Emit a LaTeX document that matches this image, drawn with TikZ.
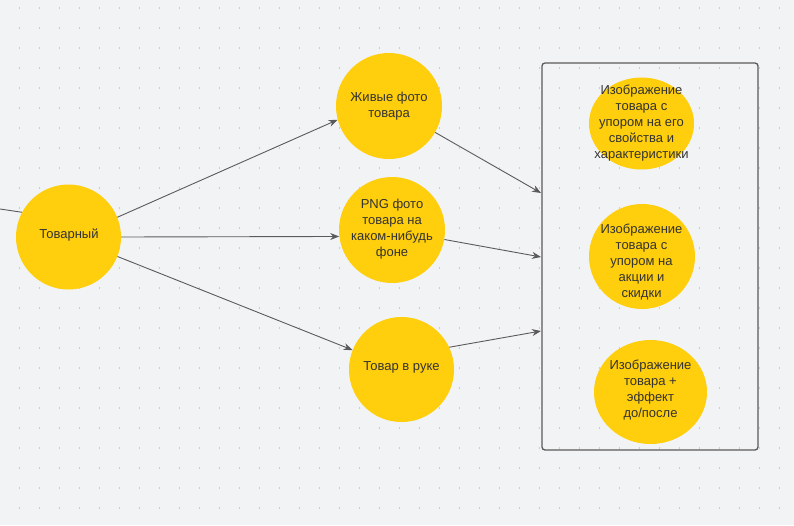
\documentclass[tikz,border=0pt]{standalone}
\usepackage{fontspec}
\setmainfont{Liberation Sans}
\usetikzlibrary{arrows.meta,shapes.geometric}
\definecolor{bg}{HTML}{F2F3F5}
\definecolor{dotc}{HTML}{A8A8A8}
\definecolor{yel}{HTML}{FFCE0C}
\definecolor{edge}{HTML}{5A5A5A}
\definecolor{txtc}{HTML}{333333}
\tikzset{
  bub/.style={ellipse, fill=yel, inner sep=0pt},
  txt/.style={align=center, font=\fontsize{13pt}{16pt}\selectfont, text=txtc, inner sep=0pt},
  arr/.style={draw=edge, line width=0.9pt, -{Stealth[length=9pt,width=7pt]}},
  plain/.style={draw=edge, line width=0.9pt},
  frame/.style={draw=edge, line width=1.3pt, rounded corners=3pt}
}
\begin{document}
\begin{tikzpicture}[x=1pt,y=-1pt]
\fill[bg] (0,0) rectangle (794,525);
\useasboundingbox (0,0) rectangle (794,525);
\foreach \i in {0,...,39}{
  \foreach \j in {0,...,25}{
    \fill[dotc] ({19.5+20*\i},{8+20*\j}) circle (0.6pt);
  }
}
% frame
\node[frame, minimum width=216pt, minimum height=387pt, inner sep=0pt] (box) at (650,256.5) {};
% bubbles
\node[bub, minimum width=105pt, minimum height=105pt] (tov) at (68.5,237) {};
\node[bub, minimum width=106pt, minimum height=106pt] (live) at (389,106) {};
\node[bub, minimum width=106pt, minimum height=106pt] (png) at (392,230) {};
\node[bub, minimum width=105pt, minimum height=105pt] (hand) at (401.5,369.5) {};
\node[bub, minimum width=105pt, minimum height=92pt] (i1) at (641.5,123.5) {};
\node[bub, minimum width=106pt, minimum height=105pt] (i2) at (642,256.5) {};
\node[bub, minimum width=113pt, minimum height=104pt] (i3) at (650.5,392) {};
% texts
\node[txt] at (69,235.5) {Товарный};
\node[txt] at (389,106) {Живые фото\\товара};
\node[txt] at (392,229) {PNG фото\\товара на\\каком-нибудь\\фоне};
\node[txt] at (401.5,367) {Товар в руке};
\node[txt] at (641.5,123) {Изображение\\товара с\\упором на его\\свойства и\\характеристики};
\node[txt] at (641.5,262.5) {Изображение\\товара с\\упором на\\акции и\\скидки};
\node[txt] at (650.5,390) {Изображение\\товара +\\эффект\\до/после};
% connectors
\coordinate (lft) at (0,209);
\coordinate (b1) at (541,193);
\coordinate (b2) at (541,257);
\coordinate (b3) at (541,331);
\draw[plain] (lft) -- (tov.152);
\draw[arr] (tov.22) -- (live.195);
\draw[arr] (tov.east) -- (png.187);
\draw[arr] (tov) -- (hand);
\draw[arr] (live) -- (b1);
\draw[arr] (png) -- (b2);
\draw[arr] (hand.25) -- (b3);
\end{tikzpicture}
\end{document}
